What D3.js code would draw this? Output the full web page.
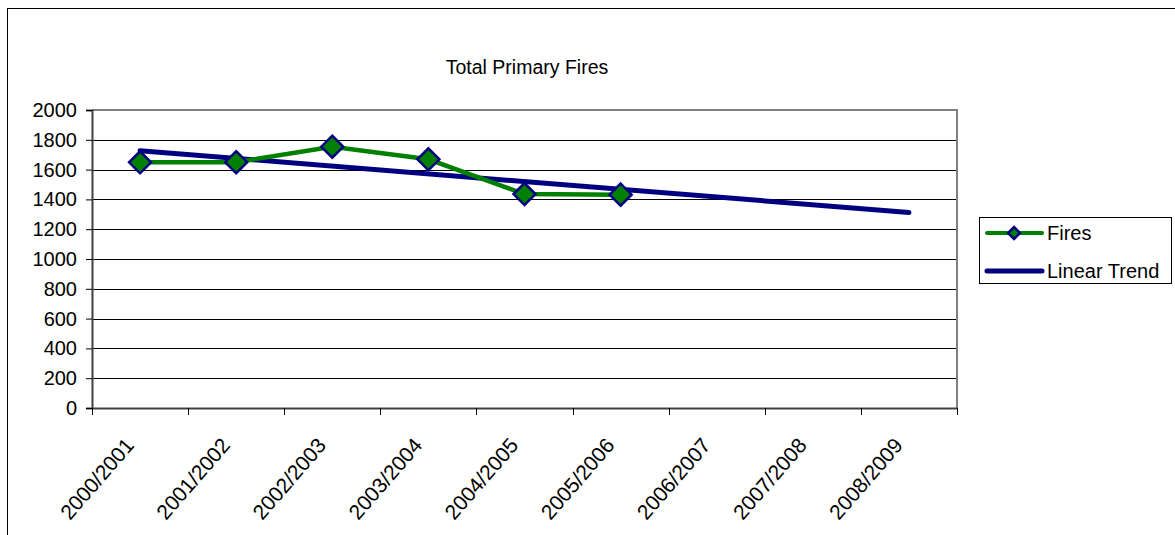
<!DOCTYPE html>
<html>
<head>
<meta charset="utf-8">
<script src="https://cdn.jsdelivr.net/npm/d3@7"></script>
<style>
  html, body { margin: 0; padding: 0; background: #fff; }
  svg { display: block; }
  text { font-family: "Liberation Sans", Arial, sans-serif; fill: #000; }
</style>
</head>
<body>
<svg id="chart" width="1175" height="535"></svg>
<script>
// ---- data ----
const title = "Total Primary Fires";
const categories = ["2000/2001","2001/2002","2002/2003","2003/2004","2004/2005","2005/2006","2006/2007","2007/2008","2008/2009"];
const fireCategories = ["2000/2001","2001/2002","2002/2003","2003/2004","2004/2005","2005/2006"];
const fireValues = [1649, 1650, 1754, 1669, 1436, 1432];
const trendCategories = ["2000/2001","2008/2009"];
const trendValues = [1727, 1312];
const yTicks = [0, 200, 400, 600, 800, 1000, 1200, 1400, 1600, 1800, 2000];
const seriesNames = ["Fires", "Linear Trend"];

// ---- layout ----
const svg = d3.select("#chart");
const plot = { left: 92, right: 957, top: 110, bottom: 408 };
const green = "#008000", navy = "#000080";

// outer border
svg.append("rect").attr("x", 7.5).attr("y", 8.5).attr("width", 1200).attr("height", 600)
  .attr("fill", "none").attr("stroke", "#000").attr("stroke-width", 1);

const x = d3.scaleBand().domain(categories).range([plot.left, plot.right]).padding(0);
const y = d3.scaleLinear().domain([0, 2000]).range([plot.bottom, plot.top]);
const cx = c => x(c) + x.bandwidth() / 2;

// title
svg.append("text").attr("x", 527).attr("y", 74).attr("text-anchor", "middle")
  .style("font-size", "19.5px").text(title);

// gridlines
svg.append("g").selectAll("line").data(yTicks.filter(v => v > 0 && v < 2000)).join("line")
  .attr("x1", plot.left).attr("x2", plot.right)
  .attr("y1", d => Math.round(y(d)) + 0.5).attr("y2", d => Math.round(y(d)) + 0.5)
  .attr("stroke", "#000").attr("stroke-width", 1);

// plot frame top/right (gray)
svg.append("path")
  .attr("d", `M${plot.left},${plot.top}H${plot.right}V${plot.bottom}`)
  .attr("fill", "none").attr("stroke", "#808080").attr("stroke-width", 2);

// y axis
const yAxis = d3.axisLeft(y).tickValues(yTicks).tickFormat(d3.format("d")).tickSize(6).tickPadding(9);
const gy = svg.append("g").attr("transform", `translate(${plot.left},0)`).call(yAxis);
gy.select(".domain").attr("stroke", "#404040").attr("stroke-width", 2);
gy.selectAll(".tick line").attr("stroke", "#000");
gy.selectAll(".tick text").style("font-size", "20px").attr("fill", "#000");

// x axis (ticks at category boundaries)
const xAxis = d3.axisBottom(x).tickSize(0).tickFormat("");
const gx = svg.append("g").attr("transform", `translate(0,${plot.bottom})`).call(xAxis);
gx.select(".domain").attr("stroke", "#404040").attr("stroke-width", 2);
const bounds = categories.map(c => x(c)).concat([x.range()[1]]);
gx.selectAll("line.bt").data(bounds).join("line").attr("class", "bt")
  .attr("x1", d => Math.round(d) + 0.5).attr("x2", d => Math.round(d) + 0.5)
  .attr("y1", 0).attr("y2", 7).attr("stroke", "#000");
gx.selectAll("text.xl").data(categories).join("text").attr("class", "xl")
  .attr("text-anchor", "end")
  .attr("transform", d => `translate(${cx(d) - 5},${38}) rotate(-49)`)
  .style("font-size", "21px").text(d => d);

// trend line
const line = d3.line().x(d => cx(d[0])).y(d => y(d[1]));
svg.append("path").datum(trendCategories.map((c, i) => [c, trendValues[i]]))
  .attr("d", line).attr("fill", "none").attr("stroke", navy).attr("stroke-width", 5)
  .attr("stroke-linecap", "round");

// fires line
const fireData = fireCategories.map((c, i) => [c, fireValues[i]]);
svg.append("path").datum(fireData).attr("d", line)
  .attr("fill", "none").attr("stroke", green).attr("stroke-width", 4.5);

const diamond = s => `M0,${-s}L${s},0L0,${s}L${-s},0Z`;
svg.append("g").selectAll("path").data(fireData).join("path")
  .attr("transform", d => `translate(${cx(d[0])},${y(d[1])})`)
  .attr("d", diamond(11)).attr("fill", green).attr("stroke", navy).attr("stroke-width", 2.5);

// legend
const lg = svg.append("g");
lg.append("rect").attr("x", 979.5).attr("y", 217.5).attr("width", 192).attr("height", 66)
  .attr("fill", "#fff").attr("stroke", "#000").attr("stroke-width", 1);
const legendY = [233, 271];
lg.append("line").attr("x1", 987).attr("x2", 1042).attr("y1", legendY[0]).attr("y2", legendY[0])
  .attr("stroke", green).attr("stroke-width", 4).attr("stroke-linecap", "round");
lg.append("path").attr("transform", `translate(1014,${legendY[0]})`).attr("d", diamond(6))
  .attr("fill", green).attr("stroke", navy).attr("stroke-width", 2.5);
lg.append("line").attr("x1", 987).attr("x2", 1042).attr("y1", legendY[1]).attr("y2", legendY[1])
  .attr("stroke", navy).attr("stroke-width", 5).attr("stroke-linecap", "round");
lg.selectAll("text").data(seriesNames).join("text")
  .attr("x", 1047).attr("y", (d, i) => legendY[i] + 7)
  .style("font-size", "20px").text(d => d);
</script>
</body>
</html>
